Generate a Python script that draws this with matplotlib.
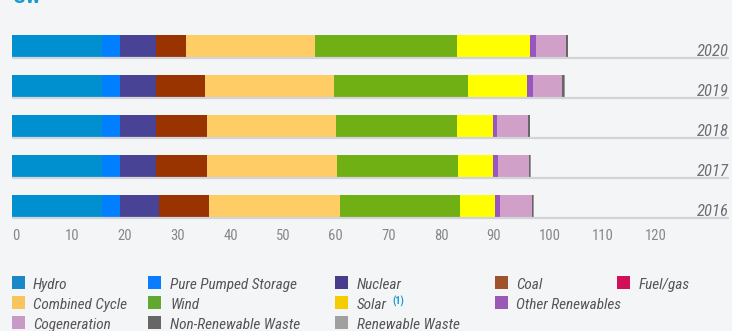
import matplotlib
matplotlib.use("Agg")
import matplotlib.pyplot as plt
import numpy as np
from matplotlib.patches import Rectangle

plt.rcParams['font.family'] = ['Roboto Condensed', 'Roboto', 'DejaVu Sans']

years = ['2020', '2019', '2018', '2017', '2016']
sources = ['Hydro', 'Pure Pumped Storage', 'Nuclear', 'Coal', 'Fuel/gas',
           'Combined Cycle', 'Wind', 'Solar', 'Other Renewables',
           'Cogeneration', 'Non-Renewable Waste', 'Renewable Waste']

# installed capacity (GW), one list per source, years in the order above
hydro      = [17.1, 17.1, 17.1, 17.0, 17.1]
pumped     = [3.3, 3.3, 3.3, 3.4, 3.3]
nuclear    = [6.9, 6.9, 6.9, 6.9, 7.5]
coal       = [5.6, 9.3, 9.6, 9.6, 9.5]
fuel_gas   = [0.0, 0.0, 0.0, 0.0, 0.0]
combined   = [24.5, 24.5, 24.5, 24.8, 24.8]
wind       = [26.9, 25.3, 23.0, 22.8, 22.7]
solar      = [14.0, 11.3, 6.8, 6.7, 6.75]
other_ren  = [1.1, 1.1, 0.7, 1.0, 0.85]
cogen      = [5.7, 5.6, 6.0, 5.8, 6.05]
nr_waste   = [0.3, 0.3, 0.3, 0.3, 0.3]
r_waste    = [0.1, 0.1, 0.1, 0.1, 0.1]

series = [hydro, pumped, nuclear, coal, fuel_gas, combined, wind, solar,
          other_ren, cogen, nr_waste, r_waste]

bar_colors = ['#0090d0', '#0080ff', '#484394', '#993300', '#cc0055', '#ffcc66',
              '#70b015', '#ffff00', '#9955c0', '#d0a0c8', '#666666', '#999999']
leg_colors = ['#1a87c8', '#0a7cff', '#483d8b', '#a0522d', '#d0105a', '#f8c460',
              '#60a830', '#f5cc00', '#9b59b6', '#c89ac8', '#666666', '#a0a0a0']
# legend rows as in the original: 5, 4 and 3 entries
leg_rows = [[0, 1, 2, 3, 4], [5, 6, 7, 8], [9, 10, 11]]

bg = '#f4f5f7'
W, H = 732, 331
fig = plt.figure(figsize=(W / 100, H / 100), dpi=100, facecolor=bg)
ax = fig.add_axes([12.3 / W, 1 - 226 / H, (729 - 12.3) / W, 200 / H])
ax.set_facecolor(bg)

y = np.arange(len(years))
left = np.zeros(len(years))
for vals, col in zip(series, bar_colors):
    ax.barh(y, vals, left=left, height=0.55, color=col, linewidth=0)
    left += np.array(vals)

ax.hlines(y + 0.3, 0, 136, color='#d2d4d9', lw=1.6)
for yi, yr in zip(y, years):
    ax.text(136, yi + 0.24, yr, ha='right', va='baseline', fontsize=12,
            style='italic', color='#6f6f73')

ax.set_xlim(0, 136)
ax.set_ylim(4.5, -0.5)
ax.set_xticks(range(0, 121, 10))
for lab in ax.set_xticklabels([str(v) for v in range(0, 121, 10)]):
    lab.set_ha('left')
ax.tick_params(axis='x', length=0, pad=2, labelsize=10.5, labelcolor='#87878a')
ax.set_yticks([])
for s in ax.spines.values():
    s.set_visible(False)

# cut-off unit title at the top
fig.text(13 / W, 1 - 3 / H, 'GW', color='#1a9bd0', fontsize=15,
         fontweight='bold', va='baseline')

# legend drawn by hand
mark_x = [12, 148, 335, 495, 617]
text_x = [33, 170, 357, 516, 639]
row_top = [276, 296, 316]
for r, row in enumerate(leg_rows):
    for c, i in enumerate(row):
        fig.patches.append(Rectangle((mark_x[c] / W, 1 - (row_top[r] + 13) / H),
                                     13 / W, 13 / H, transform=fig.transFigure,
                                     color=leg_colors[i], linewidth=0))
        fig.text(text_x[c] / W, 1 - (row_top[r] + 13) / H, sources[i],
                 fontsize=11, style='italic', color='#555558', va='baseline')
        if sources[i] == 'Solar':
            fig.text((text_x[c] + 35) / W, 1 - (row_top[r] + 9) / H, '(1)',
                     fontsize=7.5, fontweight='bold', color='#1a9bd0',
                     va='baseline')

fig.savefig('out.png', dpi=100, facecolor=bg)
